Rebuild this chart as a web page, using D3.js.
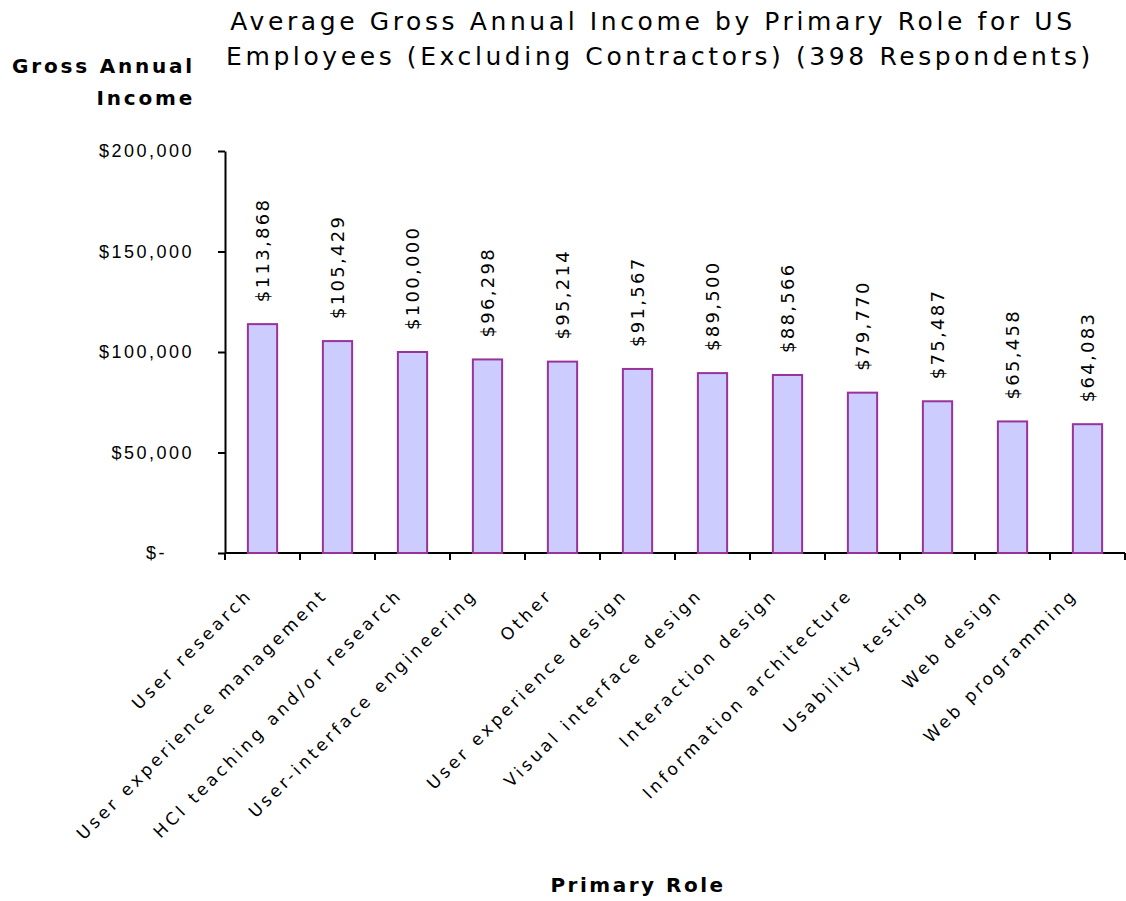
<!DOCTYPE html>
<html>
<head>
<meta charset="utf-8">
<script src="https://cdn.jsdelivr.net/npm/d3@7"></script>
<style>
  body { margin: 0; background: #fff; }
  svg { font-family: "DejaVu Sans", Verdana, sans-serif; }
</style>
</head>
<body>
<svg id="chart" width="1126" height="901"></svg>
<script>
// data
var roles = ["User research", "User experience management", "HCI teaching and/or research",
  "User-interface engineering", "Other", "User experience design", "Visual interface design",
  "Interaction design", "Information architecture", "Usability testing", "Web design", "Web programming"];
var incomes = [113868, 105429, 100000, 96298, 95214, 91567, 89500, 88566, 79770, 75487, 65458, 64083];
var yTicks = [0, 50000, 100000, 150000, 200000];

var svg = d3.select("#chart");
var plotLeft = 225, plotRight = 1125, plotTop = 151, plotBottom = 553;

var x = d3.scaleBand().domain(roles).range([plotLeft, plotRight]).paddingInner(0.61).paddingOuter(0.305);
var y = d3.scaleLinear().domain([0, 200000]).range([plotBottom, plotTop]);

var money = d3.format(",");

// y axis
var yAxis = svg.append("g")
    .attr("transform", "translate(" + plotLeft + ",0)")
    .call(d3.axisLeft(y).tickValues(yTicks).tickSizeInner(7).tickSizeOuter(0).tickPadding(24)
        .tickFormat(function (d) { return d == 0 ? "$-" : "$" + money(d); }));
yAxis.selectAll("text").style("font-size", "18px").style("letter-spacing", "2.5px").attr("fill", "#000")
    .attr("dx", function (d) { return d == 0 ? -27 : 0; });
yAxis.selectAll("line, path").attr("stroke", "#000").attr("stroke-width", 2);

// x axis, ticks between bars
var xAxis = svg.append("g").attr("transform", "translate(0," + plotBottom + ")");
xAxis.append("line").attr("x1", plotLeft).attr("x2", plotRight).attr("stroke", "#000").attr("stroke-width", 2);
xAxis.selectAll("line.tick").data(d3.range(roles.length + 1)).enter().append("line")
    .attr("class", "tick")
    .attr("x1", function (i) { return plotLeft + i * (plotRight - plotLeft) / roles.length; })
    .attr("x2", function (i) { return plotLeft + i * (plotRight - plotLeft) / roles.length; })
    .attr("y1", 0).attr("y2", 7)
    .attr("stroke", "#000").attr("stroke-width", 2);

// bars
svg.append("g").selectAll("rect").data(incomes).enter().append("rect")
    .attr("x", function (d, i) { return x(roles[i]); })
    .attr("y", function (d) { return y(d); })
    .attr("width", x.bandwidth())
    .attr("height", function (d) { return plotBottom - y(d); })
    .attr("fill", "#ccccff")
    .attr("stroke", "#993399")
    .attr("stroke-width", 2);

// value labels
svg.append("g").selectAll("text").data(incomes).enter().append("text")
    .attr("transform", function (d, i) {
        return "translate(" + (x(roles[i]) + x.bandwidth() / 2 + 6) + "," + (y(d) - 22) + ") rotate(-90)";
    })
    .style("font-size", "18px")
    .style("letter-spacing", "2.3px")
    .text(function (d) { return "$" + money(d); });

// category labels
svg.append("g").selectAll("text").data(roles).enter().append("text")
    .attr("transform", function (d) {
        return "translate(" + (x(d) + x.bandwidth() / 2 - 9) + "," + (plotBottom + 43) + ") rotate(-45)";
    })
    .attr("text-anchor", "end")
    .style("font-size", "17px")
    .style("letter-spacing", "3.4px")
    .text(function (d) { return d; });

// titles
var title = svg.append("text").attr("text-anchor", "middle").style("font-size", "25px").style("letter-spacing", "3.6px");
title.append("tspan").attr("x", 653).attr("y", 30).text("Average Gross Annual Income by Primary Role for US");
title.append("tspan").attr("x", 660).attr("y", 65).text("Employees (Excluding Contractors) (398 Respondents)");

var yTitle = svg.append("text").attr("text-anchor", "end").style("font-size", "20px")
    .style("font-weight", "bold").style("letter-spacing", "2.8px");
yTitle.append("tspan").attr("x", 195).attr("y", 73).text("Gross Annual");
yTitle.append("tspan").attr("x", 195).attr("y", 105).text("Income");

svg.append("text").attr("x", 638).attr("y", 892).attr("text-anchor", "middle")
    .style("font-size", "20px").style("font-weight", "bold").style("letter-spacing", "2.5px").text("Primary Role");
</script>
</body>
</html>
